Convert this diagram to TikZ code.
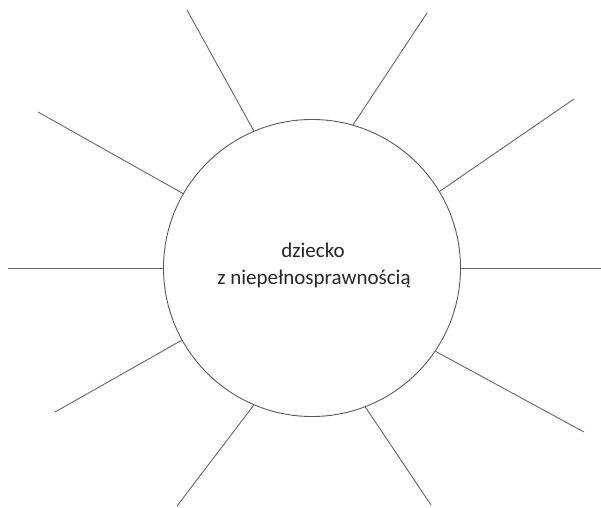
\documentclass[tikz,border=0pt]{standalone}
\usepackage{fontspec}
\setmainfont{Carlito}
\begin{document}
\begin{tikzpicture}[x=1pt,y=-1pt,
  ray/.style={draw=black!60, line width=0.9pt},
  hub/.style={circle, draw=black!65, line width=0.9pt, minimum size=297pt, inner sep=0pt},
  lbl/.style={font=\fontsize{21}{25}\selectfont, text=black!85, inner sep=0pt, anchor=base}]
\useasboundingbox (0,0) rectangle (601,507);
\node[hub] (c) at (312,268) {};
\node[lbl] (t1) at (313,257) {dziecko};
\node[lbl] (t2) at (314,284) {z niepełnosprawnością};
\coordinate (o1) at (187,10);
\coordinate (o2) at (427,13);
\coordinate (o3) at (38,112);
\coordinate (o4) at (574,99);
\coordinate (o5) at (8,268);
\coordinate (o6) at (601,268);
\coordinate (o7) at (55,412);
\coordinate (o8) at (584,432);
\coordinate (o9) at (177,506);
\coordinate (o10) at (431,505);
\draw[ray] (c.113.3) -- (o1);
\draw[ray] (c.74.3) -- (o2);
\draw[ray] (c.150.3) -- (o3);
\draw[ray] (c.31.9) -- (o4);
\draw[ray] (c.180) -- (o5);
\draw[ray] (c.0) -- (o6);
\draw[ray] (c.209.7) -- (o7);
\draw[ray] (c.326.9) -- (o8);
\draw[ray] (c.247) -- (o9);
\draw[ray] (c.291.4) -- (o10);
\end{tikzpicture}
\end{document}
